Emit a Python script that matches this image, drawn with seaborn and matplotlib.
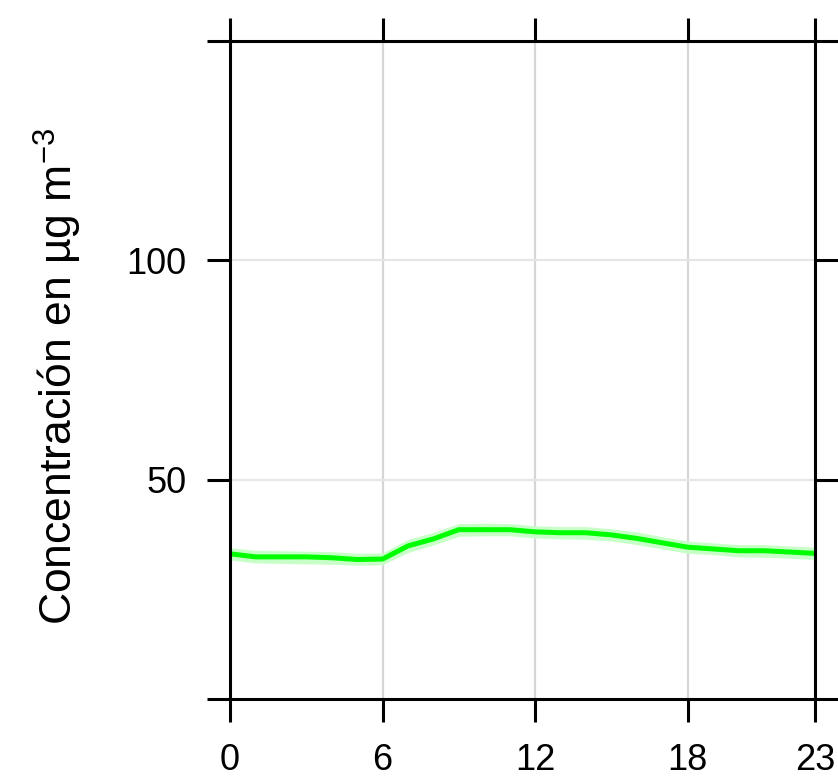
import numpy as np
import pandas as pd
import matplotlib
matplotlib.use("Agg")
import matplotlib.pyplot as plt
import seaborn as sns

# Hourly mean concentration with its confidence band
hours = list(range(24))
mean_conc = [33.1, 32.4, 32.4, 32.4, 32.2, 31.8, 31.9, 34.9, 36.5, 38.6, 38.6, 38.6,
             38.1, 37.9, 37.9, 37.4, 36.6, 35.6, 34.6, 34.2, 33.8, 33.8, 33.5, 33.2]
lower_conc = [31.7, 31.0, 30.9, 30.8, 30.7, 30.5, 30.6, 33.4, 35.1, 37.1, 37.2, 37.2,
              36.7, 36.5, 36.4, 36.0, 35.2, 34.2, 33.2, 32.9, 32.4, 32.3, 32.1, 31.8]
upper_conc = [34.5, 33.9, 33.8, 33.7, 33.6, 33.2, 33.3, 36.4, 38.0, 40.0, 40.1, 40.0,
              39.5, 39.3, 39.3, 38.8, 38.1, 37.0, 36.0, 35.6, 35.2, 35.2, 34.9, 34.6]

x_ticks = [0, 6, 12, 18, 23]
y_ticks = [0, 50, 100, 150]
y_tick_labels = ["", "50", "100", ""]
y_label = "Concentración en µg m$^{-3}$"

df = pd.DataFrame({"hour": hours, "mean": mean_conc,
                   "lower": lower_conc, "upper": upper_conc})

sns.set_theme(style="white")
plt.rcParams["font.family"] = ["Liberation Sans", "DejaVu Sans"]
plt.rcParams["mathtext.fontset"] = "custom"
plt.rcParams["mathtext.rm"] = "Liberation Sans"
plt.rcParams["mathtext.it"] = "Liberation Sans"

fig = plt.figure(figsize=(8.38, 7.77), dpi=100)
ax = fig.add_axes([230 / 838, 1 - 699 / 777, 585 / 838, 658 / 777])

# reference grid
for xv in [6, 12, 18]:
    ax.axvline(xv, color="#d6d6d6", lw=1.6, zorder=0)
for yv in [50, 100]:
    ax.axhline(yv, color="#e6e6e6", lw=1.6, zorder=0)

ax.fill_between(df["hour"], df["lower"], df["upper"], color="#c8ffc8", lw=0, zorder=1)
sns.lineplot(data=df, x="hour", y="mean", color="#00ff00", lw=3.6, ax=ax, zorder=2)

ax.set_xlim(0, 23)
ax.set_ylim(0, 150)
ax.set_xticks(x_ticks)
ax.set_xticklabels([str(v) for v in x_ticks])
ax.set_yticks(y_ticks)
ax.set_yticklabels(y_tick_labels)
ax.set_xlabel("")
ax.set_ylabel("")

ax.tick_params(axis="both", which="both", direction="out", length=16.5, width=2.2,
               color="black", labelsize=26, labelcolor="black",
               top=True, right=True, bottom=True, left=True,
               labeltop=False, labelright=False)
ax.tick_params(axis="x", pad=15)
ax.tick_params(axis="y", pad=15)
for s in ax.spines.values():
    s.set_visible(True)
    s.set_color("black")
    s.set_linewidth(2.2)

fig.text(84 / 838, 1 - 376 / 777, y_label, rotation=90, ha="right", va="center",
         fontsize=32, color="black")

fig.savefig("out.png", dpi=100)
